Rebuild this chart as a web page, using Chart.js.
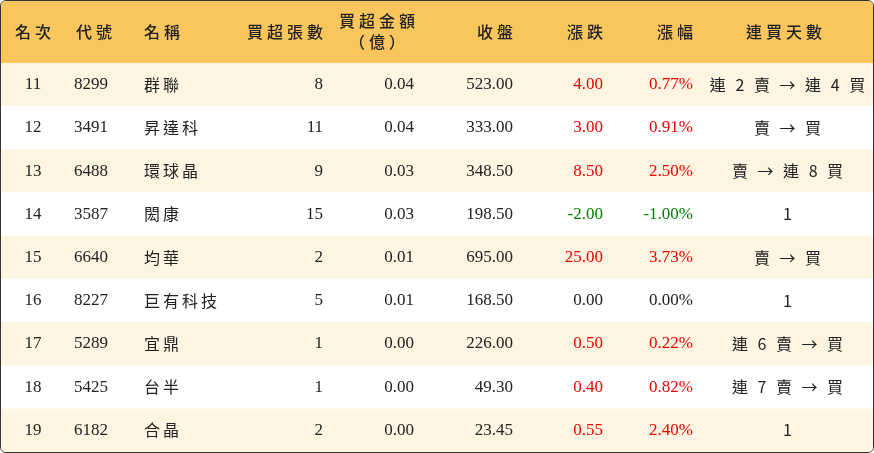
<!DOCTYPE html>
<html lang="zh-Hant">
<head>
<meta charset="utf-8">
<title>買超排行</title>
<script src="https://cdn.jsdelivr.net/npm/chart.js"></script>
<style>
  body { margin: 0; background: #fff; }
  .box { width: 872px; height: 451px; border: 1px solid #333; border-radius: 6px; overflow: hidden; }
  canvas { display: block; }
</style>
</head>
<body>
<div class="box"><canvas id="tbl" width="872" height="451"></canvas></div>
<script>
// table data
const headers = ['名次', '代號', '名稱', '買超張數', '買超金額\n（億）', '收盤', '漲跌', '漲幅', '連買天數'];
const ranks = ['11', '12', '13', '14', '15', '16', '17', '18', '19'];
const codes = ['8299', '3491', '6488', '3587', '6640', '8227', '5289', '5425', '6182'];
const names = ['群聯', '昇達科', '環球晶', '閎康', '均華', '巨有科技', '宜鼎', '台半', '合晶'];
const lots = [8, 11, 9, 15, 2, 5, 1, 1, 2];
const amounts = ['0.04', '0.04', '0.03', '0.03', '0.01', '0.01', '0.00', '0.00', '0.00'];
const closes = ['523.00', '333.00', '348.50', '198.50', '695.00', '168.50', '226.00', '49.30', '23.45'];
const changes = ['4.00', '3.00', '8.50', '-2.00', '25.00', '0.00', '0.50', '0.40', '0.55'];
const pcts = ['0.77%', '0.91%', '2.50%', '-1.00%', '3.73%', '0.00%', '0.22%', '0.82%', '2.40%'];
const streaks = ['連 2 賣 → 連 4 買', '賣 → 買', '賣 → 連 8 買', '1', '賣 → 買', '1', '連 6 賣 → 買', '連 7 賣 → 買', '1'];

// column layout: [x, align]
const cols = [[32, 'center'], [73, 'left'], [143, 'left'], [322, 'right'], [413, 'right'],
              [512, 'right'], [602, 'right'], [692, 'right'], [787, 'center']];
const headCols = [[36, 'center'], [75, 'left'], [143, 'left'], [322, 'right'], [380, 'center'],
                  [512, 'right'], [602, 'right'], [692, 'right'], [787, 'center']];

const serif = '"Liberation Serif", "Noto Sans CJK TC", serif';
const cjk = '"Noto Sans CJK TC", sans-serif';

const cellText = {
  id: 'cellText',
  afterDatasetsDraw(chart) {
    const ctx = chart.ctx;
    const area = chart.chartArea;
    const y = chart.scales.y;
    ctx.save();
    // header band
    ctx.fillStyle = '#f9c55d';
    ctx.fillRect(0, 0, chart.width, area.top);
    ctx.fillStyle = '#222';
    ctx.textBaseline = 'middle';
    headers.forEach((h, i) => {
      const [x, al] = headCols[i];
      ctx.textAlign = al;
      ctx.font = '500 16px ' + cjk;
      ctx.letterSpacing = '4px';
      const lines = h.split('\n');
      const dx = al === 'right' ? 4 : al === 'center' ? -2 : 0;
      if (lines.length === 1) {
        ctx.fillText(h, x + dx, area.top / 2);
      } else {
        ctx.fillText(lines[0], x + dx, 20);
        ctx.fillText(lines[1], x + dx, 41);
      }
    });
    // body cells
    ranks.forEach((r, i) => {
      const py = y.getPixelForValue(i);
      const ch = parseFloat(changes[i]);
      const clr = ch > 0 ? '#f00000' : ch < 0 ? '#008000' : '#222';
      const row = [r, codes[i], names[i], String(lots[i]), amounts[i], closes[i], changes[i], pcts[i], streaks[i]];
      row.forEach((t, c) => {
        const [x, al] = cols[c];
        ctx.textAlign = al;
        ctx.fillStyle = (c === 6 || c === 7) ? clr : '#222';
        const isCjk = c === 2 || c === 8;
        ctx.font = isCjk ? '16px ' + cjk : '17px ' + serif;
        ctx.letterSpacing = isCjk ? '3px' : '0px';
        ctx.fillText(t, x + (isCjk && al === 'center' ? 1 : 0), py);
      });
    });
    ctx.restore();
  }
};

new Chart(document.getElementById('tbl'), {
  type: 'bar',
  data: {
    labels: ranks,
    datasets: [{
      data: ranks.map(() => 1),
      backgroundColor: ranks.map((r, i) => i % 2 === 0 ? '#fdf5e1' : '#ffffff'),
      barPercentage: 1,
      categoryPercentage: 1
    }]
  },
  options: {
    indexAxis: 'y',
    responsive: false,
    animation: false,
    devicePixelRatio: 1,
    layout: { padding: { top: 62, left: 0, right: 0, bottom: 0 } },
    plugins: { legend: { display: false }, tooltip: { enabled: false } },
    scales: {
      x: { display: false, min: 0, max: 1 },
      y: { display: false, grid: { display: false } }
    }
  },
  plugins: [cellText]
});
</script>
</body>
</html>
